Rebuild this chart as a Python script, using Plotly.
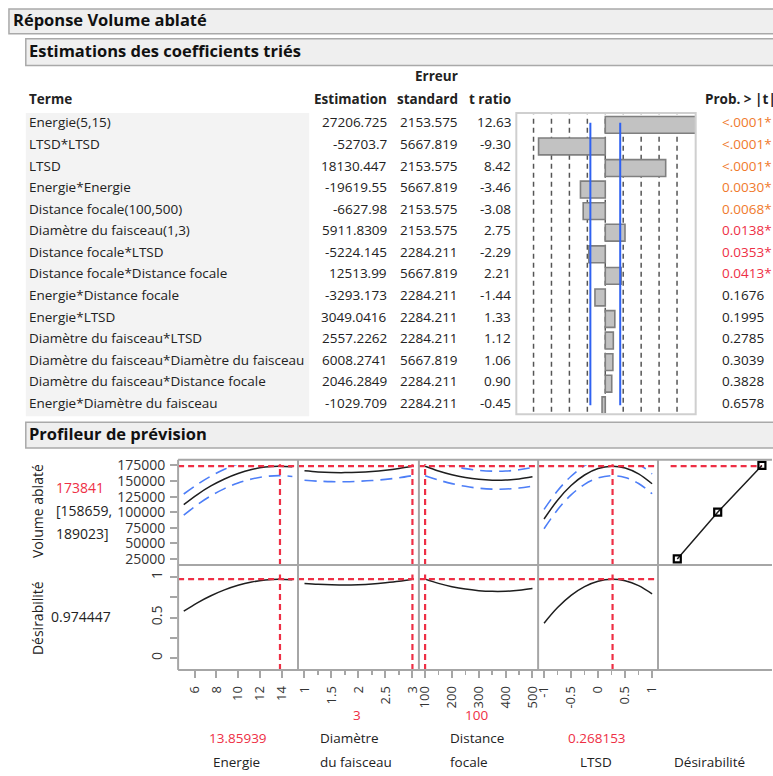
import plotly.graph_objects as go

W, H = 773, 776
FONT = "Open Sans"
RED = "#ee2f45"
ORANGE = "#f07a2c"
BLUE_T = "#2f62f2"
BLUE_CI = "#4d7ef7"
GRID = "#a6a6a6"
TXT = "#222222"

# ---------------- data: sorted parameter estimates ----------------
terms = ["Energie(5,15)", "LTSD*LTSD", "LTSD", "Energie*Energie",
         "Distance focale(100,500)", "Diamètre du faisceau(1,3)",
         "Distance focale*LTSD", "Distance focale*Distance focale",
         "Energie*Distance focale", "Energie*LTSD", "Diamètre du faisceau*LTSD",
         "Diamètre du faisceau*Diamètre du faisceau",
         "Diamètre du faisceau*Distance focale", "Energie*Diamètre du faisceau"]
estimates = ["27206.725", "-52703.7", "18130.447", "-19619.55", "-6627.98",
             "5911.8309", "-5224.145", "12513.99", "-3293.173", "3049.0416",
             "2557.2262", "6008.2741", "2046.2849", "-1029.709"]
std_errors = ["2153.575", "5667.819", "2153.575", "5667.819", "2153.575",
              "2153.575", "2284.211", "5667.819", "2284.211", "2284.211",
              "2284.211", "5667.819", "2284.211", "2284.211"]
t_ratios = [12.63, -9.30, 8.42, -3.46, -3.08, 2.75, -2.29, 2.21, -1.44, 1.33,
            1.12, 1.06, 0.90, -0.45]
p_values = ["<.0001*", "<.0001*", "<.0001*", "0.0030*", "0.0068*", "0.0138*",
            "0.0353*", "0.0413*", "0.1676", "0.1995", "0.2785", "0.3039",
            "0.3828", "0.6578"]
t_crit = 2.08
t_grid = [-10, -7.5, -5, -2.5, 0, 2.5, 5, 7.5, 10]

# ---------------- data: prediction profiler ----------------
energie = [5, 6.25, 7.5, 8.75, 10, 11.25, 12.5, 13.75, 15]
vol_energie = [112245, 128400, 142103, 153354, 162152, 168498, 172391, 173832, 172820]
vol_energie_hi = [129245, 144700, 157903, 168854, 177452, 183698, 187591, 189032, 188320]
vol_energie_lo = [95245, 112100, 126303, 137854, 146852, 153298, 157191, 158632, 157320]
des_energie = [0.578, 0.682, 0.769, 0.841, 0.898, 0.938, 0.963, 0.973, 0.966]

diametre = [1, 1.25, 1.5, 1.75, 2, 2.25, 2.5, 2.75, 3]
vol_diametre = [166328, 164639, 163700, 163513, 164076, 165391, 167457, 170273, 173841]
vol_diametre_hi = [181328, 179439, 178400, 178113, 178576, 179991, 182257, 185373, 189023]
vol_diametre_lo = [151328, 149839, 149000, 148913, 149576, 150791, 152657, 155173, 158659]
des_diametre = [0.921, 0.911, 0.904, 0.901, 0.905, 0.914, 0.929, 0.948, 0.974]

distance = [100, 150, 200, 250, 300, 350, 400, 450, 500]
vol_distance = [173841, 166235, 160193, 155716, 152803, 151454, 151669, 153448, 156792]
vol_distance_hi = [189023, 180835, 174493, 169916, 167103, 165854, 166169, 168148, 171792]
vol_distance_lo = [158659, 151635, 145893, 141516, 138503, 137054, 137169, 138748, 141792]
des_distance = [0.974, 0.922, 0.881, 0.851, 0.832, 0.823, 0.824, 0.836, 0.858]

ltsd = [-1, -0.75, -0.5, -0.25, 0, 0.25, 0.5, 0.75, 1]
vol_ltsd = [89082, 119207, 142743, 159691, 170051, 173824, 171008, 161605, 145613]
vol_ltsd_hi = [104582, 134407, 157743, 174691, 185151, 189004, 186308, 177105, 161613]
vol_ltsd_lo = [73582, 104007, 127743, 144691, 154951, 158644, 155708, 146105, 129613]
des_ltsd = [0.430, 0.623, 0.774, 0.882, 0.948, 0.972, 0.954, 0.894, 0.792]

desir_x = [0.14, 0.565, 1.03]
desir_y = [25000, 100000, 175000]

current_x = [13.85939, 3, 100, 0.268153]
current_x_text = ["13.85939", "3", "100", "0.268153"]
pred_value = 173841
pred_ci = ["[158659,", "189023]"]
desirability = 0.974447

vol_ticks = [25000, 50000, 75000, 100000, 125000, 150000, 175000]
vol_ticklabels = ["25000", "50000", "75000", "100000", "125000", "150000", "175000"]
des_ticks = [0, 0.5, 1]
des_ticklabels = ["0", "0.5", "1"]
x_ticks = [[6, 8, 10, 12, 14], [1, 1.5, 2, 2.5, 3], [100, 200, 300, 400, 500],
           [-1, -0.5, 0, 0.5, 1], [0, 0.25, 0.5, 0.75, 1]]
x_ticklabels = [["6", "8", "10", "12", "14"], ["1", "1.5", "2", "2.5", "3"],
                ["100", "200", "300", "400", "500"], ["-1", "-0.5", "0", "0.5", "1"],
                ["0", "0.25", "0.5", "0.75", "1"]]
x_minor = [[], [1.25, 1.75, 2.25, 2.75], [150, 250, 350, 450],
           [-0.75, -0.25, 0.25, 0.75], []]

# ---------------- layout geometry (pixels) ----------------
def PX(x):
    return x / W

def PY(y):
    return 1 - y / H

fig = go.Figure()
shapes = []
annos = []
YOFF = -2.5


def txt(x, y, s, anchor="left", size=13.5, color=TXT, bold=False, angle=0):
    yy = y + (YOFF if angle == 0 else 0)
    annos.append(dict(x=PX(x), y=PY(yy), xref="paper", yref="paper", text=s,
                      showarrow=False, xanchor=anchor, yanchor="middle",
                      textangle=angle, borderpad=0,
                      font=dict(family=FONT, size=size, color=color,
                                weight="bold" if bold else "normal")))


def prect(x0, y0, x1, y1, fill, line=None, lw=1.5, layer="below"):
    shapes.append(dict(type="rect", xref="paper", yref="paper",
                       x0=PX(x0), x1=PX(x1), y0=PY(y0), y1=PY(y1),
                       fillcolor=fill, layer=layer,
                       line=dict(color=line or fill, width=lw if line else 0)))


def pline(x0, y0, x1, y1, color=GRID, width=2):
    shapes.append(dict(type="line", xref="paper", yref="paper", layer="above",
                       x0=PX(x0), x1=PX(x1), y0=PY(y0), y1=PY(y1),
                       line=dict(color=color, width=width)))


# header boxes
prect(5, 5, 780, 30, "#efefef", "#a9a9a9")
prect(22, 35, 780, 62, "#efefef", "#a9a9a9")
prect(22, 422, 780, 448, "#efefef", "#a9a9a9")
prect(22, 110, 308, 416, "#f3f3f3")
txt(8, 18, "Réponse Volume ablaté", size=16.5, bold=True, color="#111")
txt(24, 49, "Estimations des coefficients triés", size=16.5, bold=True, color="#111")
txt(24, 436, "Profileur de prévision", size=16.5, bold=True, color="#111")

# table header
txt(459, 75, "Erreur", anchor="right", bold=True)
txt(24, 98, "Terme", bold=True)
txt(388, 98, "Estimation", anchor="right", bold=True)
txt(459, 98, "standard", anchor="right", bold=True)
txt(513, 98, "t ratio", anchor="right", bold=True)
txt(706, 98, "Prob. > |t|", bold=True)

ROW0, ROWSTEP = 122, 21.77
for i, term in enumerate(terms):
    y = ROW0 + i * ROWSTEP
    txt(24, y, term)
    txt(388, y, estimates[i], anchor="right")
    txt(459, y, std_errors[i], anchor="right")
    txt(513, y, f"{t_ratios[i]:.2f}", anchor="right")
    p = p_values[i]
    if p.endswith("*"):
        val = 0.0 if p.startswith("<") else float(p[:-1])
        col = ORANGE if val < 0.01 else RED
    else:
        col = TXT
    txt(724, y, p, color=col)

# bar chart of t ratios
fig.add_trace(go.Bar(x=t_ratios, y=list(range(len(terms))), orientation="h",
                     width=0.78, xaxis="x", yaxis="y", hoverinfo="skip",
                     marker=dict(color="#c2c2c2", line=dict(color="#7f7f7f", width=1.6))))
for g in t_grid:
    shapes.append(dict(type="line", xref="x", yref="y domain", x0=g, x1=g,
                       y0=0.005, y1=0.995, layer="below",
                       line=dict(color="#555555", width=1.5, dash="5px,4px")))
for s in (-t_crit, t_crit):
    shapes.append(dict(type="line", xref="x", yref="y", x0=s, x1=s,
                       y0=-0.1, y1=13.0, layer="above",
                       line=dict(color=BLUE_T, width=2)))
prect(517, 110, 698, 414, "rgba(0,0,0,0)", "#cfcfcf", lw=2, layer="above")

layout_axes = {}
layout_axes["xaxis"] = dict(domain=[PX(517), PX(698)], range=[-12.4, 12.6],
                            visible=False, anchor="y", fixedrange=True)
layout_axes["yaxis"] = dict(domain=[PY(413), PY(110)], range=[13.37, -0.55],
                            visible=False, anchor="x", fixedrange=True)

# ---------------- profiler ----------------
cols = [175.7, 296.7, 418.7, 539, 660, 773]
rows = [460, 566, 672]
x_ranges = [[4.48, 15.52], [0.88, 3.12], [77, 521], [-1.11, 1.11], [-0.0625, 1.115]]
y_ranges = [[15500, 184000], [-0.147, 1.15]]
# the upper confidence curves are only drawn up to just below the panel top
clip_top_px = 465.5
px_per_unit = (rows[1] - rows[0]) / (y_ranges[0][1] - y_ranges[0][0])
clip_range = [y_ranges[0][0], y_ranges[0][0] + (rows[1] - clip_top_px) / px_per_unit]

profiles = [
    (energie, vol_energie, vol_energie_hi, vol_energie_lo, des_energie),
    (diametre, vol_diametre, vol_diametre_hi, vol_diametre_lo, des_diametre),
    (distance, vol_distance, vol_distance_hi, vol_distance_lo, des_distance),
    (ltsd, vol_ltsd, vol_ltsd_hi, vol_ltsd_lo, des_ltsd),
]

tickfont = dict(family=FONT, size=14, color="#333")
for r in range(2):
    for c in range(5):
        k = 2 + r * 5 + c
        xa = dict(domain=[PX(cols[c]), PX(cols[c + 1])], range=x_ranges[c],
                  anchor=f"y{k}", showgrid=False, zeroline=False, showline=False,
                  fixedrange=True)
        if r == 1:
            xa.update(tickmode="array", tickvals=x_ticks[c], ticktext=x_ticklabels[c],
                      ticks="outside", ticklen=7, tickwidth=2, tickcolor=GRID,
                      tickangle=-90, tickfont=dict(family=FONT, size=13, color="#333"),
                      ticklabelstandoff=3)
            if x_minor[c]:
                xa["minor"] = dict(tickmode="array", tickvals=x_minor[c], ticks="outside",
                                   ticklen=4, tickwidth=1.5, tickcolor=GRID)
        else:
            xa.update(showticklabels=False, ticks="")
        ya = dict(domain=[PY(rows[r + 1]), PY(rows[r])], range=y_ranges[r],
                  anchor=f"x{k}", showgrid=False, zeroline=False, showline=False,
                  fixedrange=True)
        if c == 0:
            if r == 0:
                ya.update(tickmode="array", tickvals=vol_ticks, ticktext=vol_ticklabels,
                          ticks="outside", ticklen=7, tickwidth=2, tickcolor=GRID,
                          tickfont=tickfont, ticklabelstandoff=2)
            else:
                ya.update(tickmode="array", tickvals=des_ticks, ticktext=des_ticklabels,
                          ticks="outside", ticklen=7, tickwidth=2, tickcolor=GRID,
                          tickfont=tickfont, tickangle=-90, ticklabelstandoff=3,
                          minor=dict(tickmode="array", tickvals=[0.25, 0.75],
                                     ticks="outside", ticklen=7, tickwidth=2,
                                     tickcolor=GRID))
        else:
            ya.update(showticklabels=False, ticks="")
        layout_axes[f"xaxis{k}"] = xa
        layout_axes[f"yaxis{k}"] = ya

for c in range(4):
    layout_axes[f"yaxis{12 + c}"] = dict(domain=[PY(rows[1]), PY(clip_top_px)],
                                        range=clip_range, visible=False,
                                        anchor=f"x{2 + c}", fixedrange=True)

for c, (xs, v, vhi, vlo, d) in enumerate(profiles):
    ku = 2 + c
    kl = 7 + c
    kc = 12 + c
    fig.add_trace(go.Scatter(x=xs, y=vhi, mode="lines", line_shape="spline",
                             xaxis=f"x{ku}", yaxis=f"y{kc}", hoverinfo="skip",
                             line=dict(color=BLUE_CI, width=1.6, dash="12px,7px")))
    fig.add_trace(go.Scatter(x=xs, y=vlo, mode="lines", line_shape="spline",
                             xaxis=f"x{ku}", yaxis=f"y{ku}", hoverinfo="skip",
                             line=dict(color=BLUE_CI, width=1.6, dash="12px,7px")))
    fig.add_trace(go.Scatter(x=xs, y=v, mode="lines", line_shape="spline",
                             xaxis=f"x{ku}", yaxis=f"y{ku}", hoverinfo="skip",
                             line=dict(color="#1e1e1e", width=1.5)))
    fig.add_trace(go.Scatter(x=xs, y=d, mode="lines", line_shape="spline",
                             xaxis=f"x{kl}", yaxis=f"y{kl}", hoverinfo="skip",
                             line=dict(color="#1e1e1e", width=1.5)))
    # red crosshairs
    red = dict(color=RED, width=2.2, dash="6px,4px")
    shapes.append(dict(type="line", xref=f"x{ku} domain", yref=f"y{ku}", x0=0.0, x1=1.0,
                       y0=pred_value, y1=pred_value, line=red, layer="above"))
    shapes.append(dict(type="line", xref=f"x{ku}", yref=f"y{ku}", x0=current_x[c],
                       x1=current_x[c], y0=y_ranges[0][0], y1=pred_value + 3000,
                       line=red, layer="above"))
    shapes.append(dict(type="line", xref=f"x{kl} domain", yref=f"y{kl}", x0=0.0, x1=1.0,
                       y0=desirability, y1=desirability, line=red, layer="above"))
    shapes.append(dict(type="line", xref=f"x{kl}", yref=f"y{kl}", x0=current_x[c],
                       x1=current_x[c], y0=y_ranges[1][0], y1=1.03,
                       line=red, layer="above"))

# desirability function panel
shapes.append(dict(type="line", xref="x6", yref="y6", x0=0.07, x1=1.03,
                   y0=pred_value, y1=pred_value, layer="below",
                   line=dict(color=RED, width=2.2, dash="6px,4px")))
fig.add_trace(go.Scatter(x=desir_x, y=desir_y, mode="lines+markers", xaxis="x6",
                         yaxis="y6", hoverinfo="skip", cliponaxis=False,
                         line=dict(color="#1e1e1e", width=1.5),
                         marker=dict(symbol="square-open", size=7, color="#000",
                                     line=dict(width=2.2, color="#000"))))

# profiler grid borders
for y in rows:
    pline(cols[0], y, 775, y)
for x in cols[:5]:
    pline(x, rows[0], x, rows[2])

# profiler labels
txt(34, 512, "Volume ablaté", anchor="center", size=14, angle=-90)
txt(51, 490, str(pred_value), color=RED, size=14)
txt(51, 514, pred_ci[0], size=14)
txt(51, 537, pred_ci[1], size=14)
txt(34, 620, "Désirabilité", anchor="center", size=14, angle=-90)
txt(46, 621, f"{desirability:.6f}", size=14)

txt(356, 720, current_x_text[1], anchor="center", color=RED, size=13.5)
txt(477, 720, current_x_text[2], anchor="center", color=RED, size=13.5)
txt(236, 743, current_x_text[0], anchor="center", color=RED, size=13.5)
txt(318, 743, "Diamètre", size=13.5)
txt(449, 743, "Distance", size=13.5)
txt(598, 743, current_x_text[3], anchor="center", color=RED, size=13.5)
txt(235, 767, "Energie", anchor="center", size=13.5)
txt(318, 767, "du faisceau", size=13.5)
txt(449, 767, "focale", size=13.5)
txt(597, 767, "LTSD", anchor="center", size=13.5)
txt(712, 767, "Désirabilité", anchor="center", size=13.5)

fig.update_layout(width=W, height=H, margin=dict(l=0, r=0, t=0, b=0),
                  paper_bgcolor="white", plot_bgcolor="rgba(0,0,0,0)",
                  showlegend=False, bargap=0,
                  font=dict(family=FONT, size=13.5, color=TXT),
                  shapes=shapes, annotations=annos, **layout_axes)

fig.write_html("out.html", config={"displayModeBar": False, "staticPlot": True},
               post_script="document.body.style.margin='0px';document.body.style.padding='0px';")
